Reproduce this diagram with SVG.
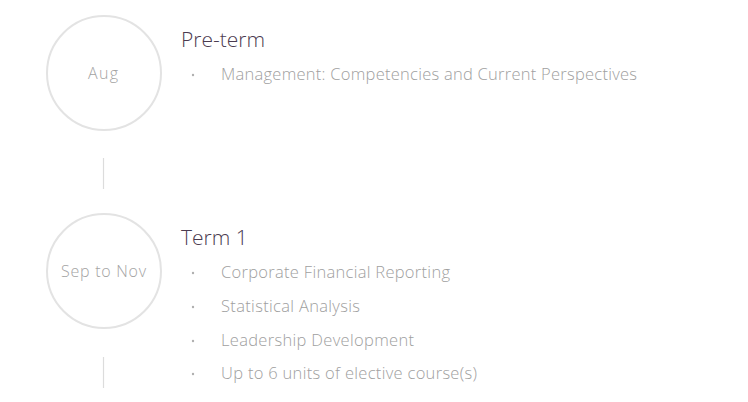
<svg xmlns="http://www.w3.org/2000/svg" width="748" height="402" viewBox="0 0 748 402">
<style>
.c{fill:#fff;stroke:#e3e3e3;stroke-width:2}
.d{font-family:"Open Sans","Noto Sans",sans-serif;font-size:16px;fill:#a3a3a3;text-anchor:middle;font-weight:300}
.t{font-family:"Open Sans","Noto Sans",sans-serif;font-size:21px;fill:#4b3b50;font-weight:300}
.i{font-family:"Open Sans","Noto Sans",sans-serif;font-size:16.5px;fill:#a0a0a0;font-weight:300}
.b{fill:#b0b0b0}
.l{stroke:#dcdcdc;stroke-width:1.2}
</style>
<rect width="748" height="402" fill="#fff"/>
<g id="connectors">
<line class="l" x1="103.5" y1="158" x2="103.5" y2="189"/>
<line class="l" x1="103.5" y1="357" x2="103.5" y2="388"/>
</g>
<g id="aug">
<circle class="c" cx="104" cy="73" r="57"/>
<text class="d" x="103" y="79" textLength="30">Aug</text>
<text class="t" x="181" y="47">Pre-term</text>
<circle class="b" cx="193" cy="75" r="1.2"/>
<text class="i" x="221" y="80" textLength="416">Management: Competencies and Current Perspectives</text>
</g>
<g id="term1">
<circle class="c" cx="104" cy="271" r="57"/>
<text class="d" x="103.5" y="277" textLength="85">Sep to Nov</text>
<text class="t" x="181" y="245">Term 1</text>
<circle class="b" cx="193" cy="273" r="1.2"/>
<text class="i" x="221" y="278" textLength="229">Corporate Financial Reporting</text>
<circle class="b" cx="193" cy="307" r="1.2"/>
<text class="i" x="221" y="312" textLength="139">Statistical Analysis</text>
<circle class="b" cx="193" cy="341" r="1.2"/>
<text class="i" x="221" y="346" textLength="193">Leadership Development</text>
<circle class="b" cx="193" cy="374" r="1.2"/>
<text class="i" x="221" y="379" textLength="256">Up to 6 units of elective course(s)</text>
</g>
</svg>
